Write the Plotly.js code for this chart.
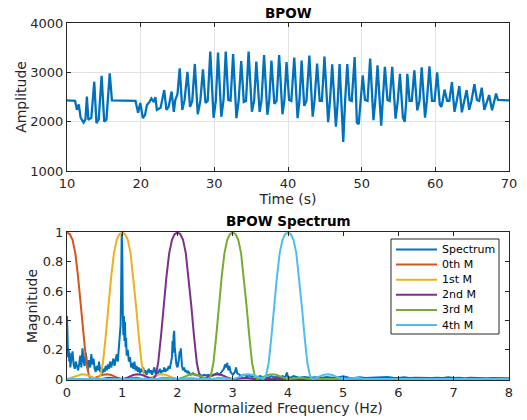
<!DOCTYPE html>
<html>
<head>
<meta charset="utf-8">
<script src="https://cdn.plot.ly/plotly-3.0.1.min.js"></script>
<style>
html,body{margin:0;padding:0;background:#fff;}
#chart{width:527px;height:420px;}
</style>
</head>
<body>
<div id="chart"></div>
<script>
// ---- Top panel: BPOW time series ----
var timeS = [10.0,11.1,11.35,11.6,11.85,12.25,12.5,12.7,12.9,13.3,13.7,14.0,14.3,14.7,15.05,15.35,15.8,16.1,19.3,19.45,19.65,19.95,20.3,20.6,20.85,21.2,21.45,21.8,22.0,22.2,22.7,23.2,23.5,23.8,24.2,24.5,24.7,25.0,25.3,25.65,25.95,26.35,26.7,27.0,27.35,27.75,28.1,28.45,28.8,29.1,29.45,29.9,30.2,30.5,30.95,31.25,31.55,31.9,32.2,32.55,33.0,33.3,33.65,34.0,34.3,34.65,35.1,35.4,35.7,36.15,36.4,36.75,37.2,37.45,37.75,38.15,38.45,38.8,39.25,39.5,39.8,40.15,40.45,40.85,41.3,41.55,41.85,42.2,42.5,42.9,43.35,43.6,43.95,44.3,44.6,44.95,45.45,45.7,46.0,46.5,46.75,47.0,47.25,47.5,47.75,48.05,48.35,48.65,49.05,49.35,49.6,49.85,50.15,50.45,50.8,51.15,51.6,51.85,52.15,52.65,52.9,53.15,53.5,53.8,54.15,54.6,54.9,55.2,55.6,55.85,56.05,56.2,56.5,56.8,57.15,57.55,57.85,58.15,58.6,58.85,59.2,59.55,59.9,60.25,60.6,60.8,61.0,61.25,61.6,61.9,62.25,62.6,62.9,63.25,63.6,63.9,64.25,64.6,64.9,65.3,65.65,65.95,66.3,66.65,66.95,67.3,67.7,67.95,68.25,68.5,70.0];
var amplitude = [2430,2420,2240,2350,2080,1980,2040,2510,2040,2080,2810,1970,2040,2930,2000,2040,2980,2430,2420,2300,2180,2380,2070,2140,2340,2400,2470,2400,2500,2240,2280,2640,2240,2300,2610,2200,2440,2560,3080,2240,2430,3010,2300,2420,3170,2150,2420,3060,2380,2420,3420,2080,2420,3400,2100,2440,3420,2440,2430,3370,2070,2420,3230,2400,2420,3420,2200,2420,3220,2200,2420,3350,2140,2420,3240,2360,2420,3350,2150,2420,3210,2440,2420,3300,2070,2420,3240,2320,2420,3340,2100,2420,3180,2420,2420,3320,1990,2420,3160,1900,2400,3170,2300,1590,2420,3170,2440,2420,3310,1980,1950,2420,2940,2440,2420,3280,2030,2420,3140,1920,2420,3110,2440,2420,3110,2060,2420,2970,2080,2000,2420,2970,2420,2420,3040,2230,2420,3100,2080,2420,3120,2420,2420,3000,2350,2300,2420,2650,2420,2420,2800,2200,2420,2720,2190,2420,2640,2240,2420,2760,2440,2420,2690,2240,2380,2540,2230,2400,2570,2440,2430];

// ---- Bottom panel: spectrum ----
var freqHz = [0.00,0.01,0.02,0.03,0.04,0.05,0.06,0.08,0.10,0.12,0.14,0.16,0.18,0.20,0.22,0.24,0.26,0.28,0.30,0.32,0.34,0.36,0.38,0.40,0.42,0.44,0.46,0.48,0.50,0.52,0.54,0.56,0.58,0.60,0.62,0.64,0.66,0.68,0.70,0.72,0.74,0.76,0.78,0.80,0.82,0.84,0.86,0.88,0.90,0.92,0.94,0.96,0.97,0.98,0.99,1.00,1.01,1.02,1.03,1.04,1.05,1.06,1.07,1.08,1.10,1.12,1.14,1.16,1.18,1.20,1.22,1.24,1.26,1.28,1.30,1.32,1.34,1.36,1.38,1.40,1.42,1.44,1.46,1.48,1.50,1.52,1.54,1.56,1.58,1.60,1.62,1.64,1.66,1.68,1.70,1.72,1.74,1.76,1.78,1.80,1.82,1.84,1.86,1.88,1.90,1.91,1.92,1.93,1.94,1.95,1.96,1.98,2.00,2.02,2.04,2.05,2.06,2.07,2.08,2.10,2.12,2.14,2.16,2.18,2.20,2.24,2.28,2.32,2.36,2.40,2.44,2.48,2.52,2.56,2.60,2.64,2.68,2.72,2.76,2.80,2.84,2.86,2.88,2.90,2.92,2.94,2.96,2.98,3.00,3.04,3.06,3.08,3.12,3.16,3.20,3.25,3.30,3.35,3.40,3.45,3.50,3.55,3.60,3.65,3.70,3.75,3.80,3.85,3.90,3.95,3.98,4.00,4.05,4.10,4.20,4.30,4.40,4.50,4.60,4.70,4.80,4.90,5.00,5.10,5.20,5.30,5.40,5.50,5.60,5.70,5.80,5.90,6.00,6.10,6.20,6.30,6.40,6.50,6.60,6.70,6.80,6.90,7.00,7.10,7.20,7.30,7.40,7.50,7.60,7.70,7.80,7.90,8.00];
var spectrumMag = [0.43,0.28,0.15,0.20,0.12,0.18,0.08,0.14,0.19,0.10,0.07,0.12,0.09,0.06,0.10,0.16,0.08,0.21,0.12,0.09,0.18,0.11,0.06,0.13,0.08,0.17,0.10,0.14,0.07,0.05,0.09,0.06,0.12,0.05,0.08,0.04,0.07,0.05,0.09,0.06,0.10,0.07,0.12,0.08,0.11,0.14,0.09,0.13,0.17,0.12,0.21,0.28,0.37,0.62,1.00,0.88,0.45,0.30,0.43,0.26,0.39,0.22,0.28,0.16,0.20,0.12,0.15,0.08,0.11,0.07,0.12,0.06,0.09,0.05,0.08,0.04,0.07,0.05,0.08,0.04,0.06,0.03,0.05,0.07,0.04,0.06,0.03,0.05,0.08,0.04,0.06,0.03,0.05,0.07,0.04,0.06,0.05,0.08,0.05,0.07,0.06,0.09,0.07,0.12,0.15,0.26,0.18,0.30,0.33,0.22,0.15,0.10,0.08,0.12,0.19,0.16,0.21,0.12,0.09,0.06,0.08,0.05,0.06,0.04,0.05,0.03,0.04,0.03,0.025,0.035,0.02,0.03,0.025,0.03,0.02,0.025,0.03,0.04,0.03,0.05,0.07,0.10,0.08,0.11,0.06,0.09,0.05,0.04,0.03,0.05,0.08,0.04,0.03,0.02,0.03,0.02,0.025,0.015,0.02,0.015,0.02,0.01,0.015,0.01,0.02,0.012,0.015,0.01,0.02,0.012,0.045,0.015,0.01,0.02,0.01,0.015,0.01,0.012,0.008,0.015,0.01,0.012,0.02,0.01,0.008,0.012,0.007,0.01,0.008,0.012,0.015,0.01,0.008,0.012,0.007,0.01,0.008,0.011,0.007,0.01,0.008,0.012,0.007,0.009,0.006,0.01,0.007,0.009,0.006,0.008,0.006,0.008,0.006];

var m0X = [0,0.05,0.1,0.15,0.2,0.25,0.3,0.35,0.4,0.45,0.55,0.65,0.73,0.8,0.9,1.0,1.1,1.25,1.4,8];
var m0Y = [1,0.99,0.95,0.86,0.70,0.50,0.29,0.11,0.02,0,0.015,0.03,0.033,0.028,0.012,0,0.005,0.01,0,0];

var m1X = [0,0.1,0.2,0.27,0.35,0.45,0.55,0.6,0.65,0.7,0.75,0.8,0.85,0.9,0.95,1.0,1.05,1.1,1.15,1.2,1.25,1.3,1.35,1.4,1.45,1.55,1.65,1.73,1.8,1.9,2.0,2.1,2.25,2.4,8];
var m1Y = [0,0.012,0.028,0.033,0.03,0.015,0,0.02,0.11,0.29,0.50,0.70,0.86,0.95,0.99,1,0.99,0.95,0.86,0.70,0.50,0.29,0.11,0.02,0,0.015,0.03,0.033,0.028,0.012,0,0.005,0.01,0,0];

var m2X = [0,0.6,0.75,0.9,1.0,1.1,1.2,1.27,1.35,1.45,1.55,1.6,1.65,1.7,1.75,1.8,1.85,1.9,1.95,2.0,2.05,2.1,2.15,2.2,2.25,2.3,2.35,2.4,2.45,2.55,2.65,2.73,2.8,2.9,3.0,3.1,3.25,3.4,8];
var m2Y = [0,0,0.01,0.005,0,0.012,0.028,0.033,0.03,0.015,0,0.02,0.11,0.29,0.50,0.70,0.86,0.95,0.99,1,0.99,0.95,0.86,0.70,0.50,0.29,0.11,0.02,0,0.015,0.03,0.033,0.028,0.012,0,0.005,0.01,0,0];

var m3X = [0,1.6,1.75,1.9,2.0,2.1,2.2,2.27,2.35,2.45,2.55,2.6,2.65,2.7,2.75,2.8,2.85,2.9,2.95,3.0,3.05,3.1,3.15,3.2,3.25,3.3,3.35,3.4,3.45,3.55,3.65,3.73,3.8,3.9,4.0,4.1,4.25,4.4,8];
var m3Y = [0,0,0.01,0.005,0,0.012,0.028,0.033,0.03,0.015,0,0.02,0.11,0.29,0.50,0.70,0.86,0.95,0.99,1,0.99,0.95,0.86,0.70,0.50,0.29,0.11,0.02,0,0.015,0.03,0.033,0.028,0.012,0,0.005,0.01,0,0];

var m4X = [0,2.6,2.75,2.9,3.0,3.1,3.2,3.27,3.35,3.45,3.55,3.6,3.65,3.7,3.75,3.8,3.85,3.9,3.95,4.0,4.05,4.1,4.15,4.2,4.25,4.3,4.35,4.4,4.45,4.55,4.65,4.73,4.8,4.9,5.0,5.1,5.25,5.4,8];
var m4Y = [0,0,0.01,0.005,0,0.012,0.028,0.033,0.03,0.015,0,0.02,0.11,0.29,0.50,0.70,0.86,0.95,0.99,1,0.99,0.95,0.86,0.70,0.50,0.29,0.11,0.02,0,0.015,0.03,0.033,0.028,0.012,0,0.005,0.01,0,0];

var seriesNames = ['Spectrum','0th M','1st M','2nd M','3rd M','4th M'];
var colors = ['#0072BD','#D95319','#EDB120','#7E2F8E','#77AC30','#4DBEEE'];

var FONT = 'DejaVu Sans, Arial, sans-serif';
var AX = '#262626';

var specX = [freqHz, m0X, m1X, m2X, m3X, m4X];
var specY = [spectrumMag, m0Y, m1Y, m2Y, m3Y, m4Y];

var traces = [
  {x: timeS, y: amplitude, type:'scatter', mode:'lines', line:{color:colors[0], width:2.3}, xaxis:'x', yaxis:'y', showlegend:false, hoverinfo:'skip'}
];
for (var i = 0; i < seriesNames.length; i++) {
  traces.push({x: specX[i], y: specY[i], name: seriesNames[i], type:'scatter', mode:'lines',
    line:{color:colors[i], width:2}, xaxis:'x2', yaxis:'y2', showlegend:false});
}

function axisBase(extra){
  var a = {
    showline:true, linecolor:AX, linewidth:1, mirror:'ticks',
    ticks:'inside', ticklen:4, tickcolor:AX, tickwidth:1,
    zeroline:false, tickfont:{family:FONT, size:13, color:AX},
    fixedrange:true
  };
  for (var k in extra) a[k] = extra[k];
  return a;
}

// Legend drawn as a boxed key (paper coordinates) to match the reference's compact spacing
var shapes = [], annotations = [];
var W = 442, H = 357, L = 67, B = 380;
function px2x(p){ return (p - L) / W; }
function py2y(p){ return (B - p) / H; }
shapes.push({type:'rect', xref:'paper', yref:'paper', x0:px2x(391), x1:px2x(499), y0:py2y(334), y1:py2y(239),
  line:{color:AX, width:1}, fillcolor:'#ffffff', layer:'above'});
for (var j = 0; j < seriesNames.length; j++) {
  var rowY = py2y(249.5 + j * 15.1);
  shapes.push({type:'line', xref:'paper', yref:'paper', x0:px2x(396), x1:px2x(437), y0:rowY, y1:rowY,
    line:{color:colors[j], width:2}, layer:'above'});
  annotations.push({text:seriesNames[j], xref:'paper', yref:'paper', x:px2x(440), y:rowY, xanchor:'left', yanchor:'middle',
    showarrow:false, font:{family:FONT, size:11, color:'#000000'}});
}
annotations.push({text:'<b>BPOW</b>', xref:'paper', yref:'paper', x:0.5, y:1.0294, xanchor:'center', yanchor:'middle', showarrow:false, font:{family:FONT, size:13.5, color:'#000000'}});
annotations.push({text:'<b>BPOW Spectrum</b>', xref:'paper', yref:'paper', x:0.5, y:0.444, xanchor:'center', yanchor:'middle', showarrow:false, font:{family:FONT, size:13.5, color:'#000000'}});

var layout = {
  width:527, height:420,
  margin:{l:67, r:18, t:23, b:40},
  paper_bgcolor:'#ffffff', plot_bgcolor:'#ffffff',
  font:{family:FONT, color:AX},
  showlegend:false,
  xaxis: axisBase({domain:[0,1], anchor:'y', range:[10,70], tickvals:[10,20,30,40,50,60,70],
    showgrid:true, gridcolor:'#e3e3e3', gridwidth:1,
    title:{text:'Time (s)', font:{family:FONT, size:14, color:AX}, standoff:4}}),
  yaxis: axisBase({domain:[0.5854,1], anchor:'x', range:[1000,4000], tickvals:[1000,2000,3000,4000],
    showgrid:true, gridcolor:'#e3e3e3', gridwidth:1,
    title:{text:'Amplitude', font:{family:FONT, size:14, color:AX}, standoff:0}}),
  xaxis2: axisBase({domain:[0,1], anchor:'y2', range:[0,8], tickvals:[0,1,2,3,4,5,6,7,8],
    showgrid:false,
    title:{text:'Normalized Frequency (Hz)', font:{family:FONT, size:14, color:AX}, standoff:4}}),
  yaxis2: axisBase({domain:[0,0.4146], anchor:'x2', range:[-0.006,1.004], tickvals:[0,0.2,0.4,0.6,0.8,1], ticktext:['0','0.2','0.4','0.6','0.8','1'],
    showgrid:false,
    title:{text:'Magnitude', font:{family:FONT, size:14, color:AX}, standoff:1}}),
  shapes: shapes,
  annotations: annotations
};

Plotly.newPlot('chart', traces, layout, {displayModeBar:false, staticPlot:true});
</script>
</body>
</html>
